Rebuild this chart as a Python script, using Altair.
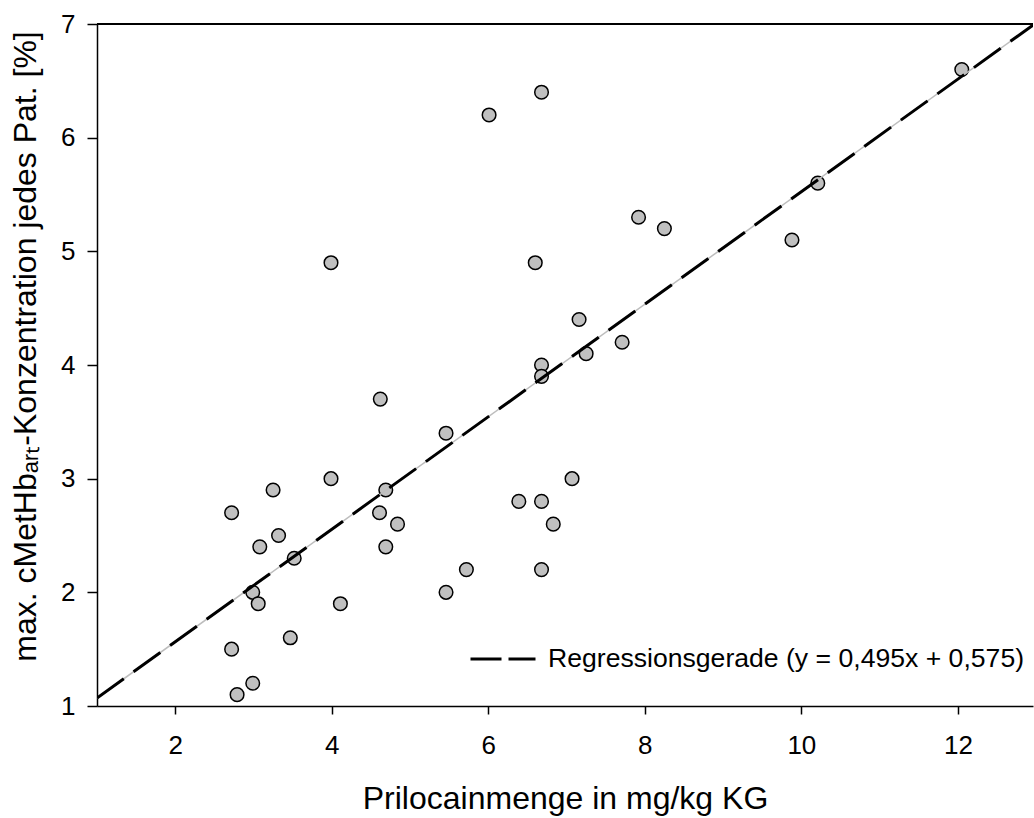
import altair as alt
import pandas as pd

# Data
dose = [2.72, 3.25, 3.32, 3.08, 3.52, 3.99, 4.69, 4.61, 4.84, 4.69,
        2.99, 3.06, 4.11, 3.47, 2.72, 2.99, 2.79, 6.68, 6.01, 7.92,
        8.25, 6.60, 7.16, 7.71, 7.25, 6.68, 6.68, 5.46, 7.07, 6.39,
        6.68, 6.83, 5.72, 6.68, 5.46, 12.05, 10.21, 9.88, 3.99, 4.62]
methb = [2.7, 2.9, 2.5, 2.4, 2.3, 3.0, 2.9, 2.7, 2.6, 2.4,
         2.0, 1.9, 1.9, 1.6, 1.5, 1.2, 1.1, 6.4, 6.2, 5.3,
         5.2, 4.9, 4.4, 4.2, 4.1, 4.0, 3.9, 3.4, 3.0, 2.8,
         2.8, 2.6, 2.2, 2.2, 2.0, 6.6, 5.6, 5.1, 4.9, 3.7]

slope = 0.495
intercept = 0.575
reg_label = "Regressionsgerade (y = 0,495x + 0,575)"
x_ends = [1.0, 12.96]

x_ticks = [2, 4, 6, 8, 10, 12]
y_ticks = [1, 2, 3, 4, 5, 6, 7]

x_title = "Prilocainmenge in mg/kg KG"
y_title = "max. cMetHb\u2090\u1d63\u209c-Konzentration jedes Pat. [%]"

FONT = "Liberation Sans"

pts = pd.DataFrame({"x": dose, "y": methb})
reg = pd.DataFrame({"x": x_ends, "y": [slope * v + intercept for v in x_ends],
                    "label": [reg_label] * len(x_ends)})

xs = alt.Scale(domain=[1, 12.96], nice=False, zero=False)
ys = alt.Scale(domain=[1, 7], nice=False, zero=False)

x_axis = alt.Axis(values=x_ticks, format="d", tickSize=8, labelPadding=39,
                  labelBaseline="alphabetic", labelFlush=False,
                  title=x_title, titleFontSize=32, titleY=102,
                  titleBaseline="alphabetic")
y_axis = alt.Axis(values=y_ticks, format="d", tickSize=10, labelPadding=12,
                  labelFlush=False, title=y_title, titleFontSize=32,
                  titleAngle=270, titleX=-62, titleY=322, titleAlign="center",
                  titleBaseline="alphabetic")

points = alt.Chart(pts).mark_point(
    shape="circle", filled=True, fill="#c0c0c0", stroke="black",
    strokeWidth=1.5, size=185, opacity=1
).encode(
    x=alt.X("x:Q", scale=xs, axis=x_axis),
    y=alt.Y("y:Q", scale=ys, axis=y_axis),
)

gray_line = alt.Chart(reg).mark_line(
    color="#bdbdbd", strokeWidth=1.5, clip=True
).encode(x=alt.X("x:Q", scale=xs), y=alt.Y("y:Q", scale=ys))

dash_line = alt.Chart(reg).mark_line(
    strokeWidth=3, strokeDash=[33, 12], clip=True
).encode(
    x=alt.X("x:Q", scale=xs),
    y=alt.Y("y:Q", scale=ys),
    color=alt.Color("label:N", scale=alt.Scale(range=["black"]),
                    legend=alt.Legend(orient="none", legendX=372, legendY=601,
                                      title=None, symbolType="stroke",
                                      symbolSize=4225, symbolStrokeWidth=3,
                                      symbolDash=[31, 7], labelFontSize=26.6,
                                      labelOffset=11, labelFont=FONT,
                                      labelColor="black", padding=0,
                                      labelLimit=0)),
)

top_rule = alt.Chart(pts).mark_rule(color="black", strokeWidth=1.5).encode(
    y=alt.datum(7, scale=ys)
)

chart = alt.layer(points, gray_line, dash_line, top_rule).properties(
    width=936, height=682,
    padding={"left": 97, "top": 24, "right": 1, "bottom": 112},
    autosize="none",
).configure_view(stroke=None).configure_axis(
    grid=False, domainColor="black", tickColor="black", labelColor="black",
    titleColor="black", labelFont=FONT, titleFont=FONT,
    titleFontWeight="normal", labelFontSize=26, titleFontSize=31,
    domainWidth=1.5, tickWidth=1.5,
)

chart.save("out.html", embed_options={"renderer": "svg", "actions": False})
